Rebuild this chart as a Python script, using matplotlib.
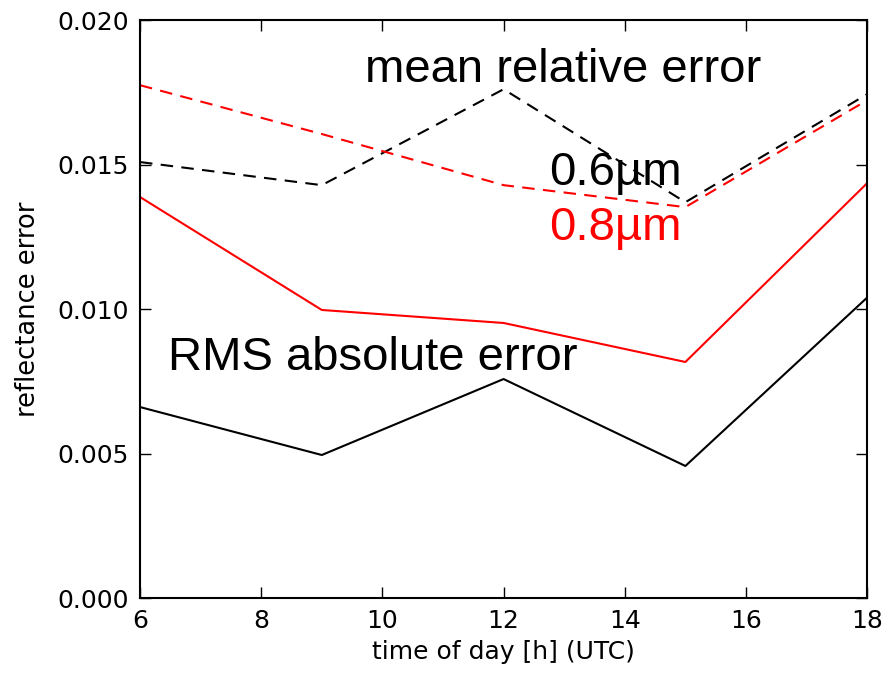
import matplotlib
matplotlib.use('Agg')
import matplotlib.pyplot as plt

hours = [6, 9, 12, 15, 18]
rms_06 = [0.00661, 0.00495, 0.00758, 0.00457, 0.0104]
rms_08 = [0.01388, 0.00997, 0.00952, 0.00817, 0.01436]
rel_06 = [0.01509, 0.01429, 0.01761, 0.0137, 0.01744]
rel_08 = [0.01775, 0.01606, 0.01429, 0.01353, 0.01723]

fig = plt.figure(figsize=(8.94, 6.73), dpi=100)
ax = fig.add_axes([0.1566, 0.1114, 0.8134, 0.8586])

ax.plot(hours, rms_06, color='k', lw=1.5)
ax.plot(hours, rms_08, color='r', lw=1.5)
ax.plot(hours, rel_06, color='k', lw=1.5, dashes=(6, 4))
ax.plot(hours, rel_08, color='r', lw=1.5, dashes=(6, 4))

ax.set_xlim(6, 18)
ax.set_ylim(0, 0.020)
ax.set_xticks(range(6, 19, 2))
ax.set_yticks([0.0, 0.005, 0.010, 0.015, 0.020])
ax.yaxis.set_major_formatter(matplotlib.ticker.FormatStrFormatter('%.3f'))
ax.tick_params(direction='in', top=True, right=True, length=8, width=1,
               labelsize=18, pad=8)
for s in ax.spines.values():
    s.set_linewidth(1.5)

ax.set_xlabel('time of day [h] (UTC)', fontsize=18, labelpad=5)
ax.set_ylabel('reflectance error', fontsize=18.5, labelpad=12)

tf = ['Liberation Sans', 'DejaVu Sans']
ax.text(9.71, 0.01785, 'mean relative error', fontsize=34, family=tf, va='baseline')
ax.text(12.75, 0.01429, '0.6µm', fontsize=34, family=tf, va='baseline')
ax.text(12.75, 0.01239, '0.8µm', fontsize=34, family=tf, va='baseline', color='r')
ax.text(6.46, 0.00789, 'RMS absolute error', fontsize=34, family=tf, va='baseline')

fig.savefig('out.png', dpi=100)
